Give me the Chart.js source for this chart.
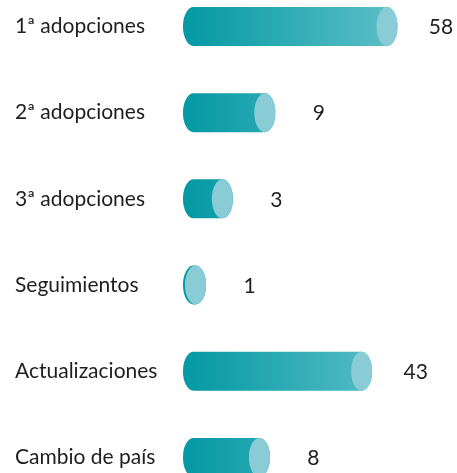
<!DOCTYPE html>
<html>
<head>
<meta charset="utf-8">
<script src="https://cdn.jsdelivr.net/npm/chart.js@4"></script>
<style>
  body { margin: 0; background: #fff; }
  #wrap { width: 457px; height: 473px; position: relative; }
</style>
</head>
<body>
<div id="wrap"><canvas id="adopBar"></canvas></div>
<script>
// datos
const categorias = ['1ª adopciones', '2ª adopciones', '3ª adopciones', 'Seguimientos', 'Actualizaciones', 'Cambio de país'];
const valores = [58, 9, 3, 1, 43, 8];

// colores
const colorOscuro = '#0399a4';
const colorClaro = '#5cbfc8';
const colorTapa = '#89ccd5';
const colorTexto = '#1e1e1e';
const fuente = 'Lato, "Noto Sans", sans-serif';

// escala de potencia (las barras del original no son lineales)
const EXP = 0.35;
class PowerScale extends Chart.LinearScale {
    getPixelForValue(value) {
        const lo = Math.pow(this.min, EXP);
        const hi = Math.pow(this.max, EXP);
        return this.getPixelForDecimal((Math.pow(value, EXP) - lo) / (hi - lo));
    }
    getValueForPixel(pixel) {
        const lo = Math.pow(this.min, EXP);
        const hi = Math.pow(this.max, EXP);
        return Math.pow(lo + this.getDecimalForPixel(pixel) * (hi - lo), 1 / EXP);
    }
}
PowerScale.id = 'power';
PowerScale.defaults = Chart.LinearScale.defaults;
Chart.register(PowerScale);

// cilindros + valores
const cilindros = {
    id: 'cilindros',
    afterDatasetsDraw(chart) {
        const { ctx, chartArea } = chart;
        const meta = chart.getDatasetMeta(0);
        const grad = ctx.createLinearGradient(chartArea.left - 10, 0, chartArea.right + 10, 0);
        grad.addColorStop(0, colorOscuro);
        grad.addColorStop(1, colorClaro);

        ctx.save();
        meta.data.forEach((bar, i) => {
            const { x, y, base, height } = bar.getProps(['x', 'y', 'base', 'height'], true);
            const ry = height / 2;
            const rx = ry * 0.54;

            // cuerpo
            ctx.beginPath();
            ctx.ellipse(base, y, rx, ry, 0, Math.PI / 2, Math.PI * 1.5);
            ctx.lineTo(x, y - ry);
            ctx.ellipse(x, y, rx, ry, 0, -Math.PI / 2, Math.PI / 2);
            ctx.closePath();
            ctx.fillStyle = grad;
            ctx.fill();

            // tapa
            ctx.beginPath();
            ctx.ellipse(x, y, rx, ry, 0, 0, Math.PI * 2);
            ctx.fillStyle = colorTapa;
            ctx.fill();

            // valor
            ctx.fillStyle = colorTexto;
            ctx.font = '21px ' + fuente;
            ctx.textAlign = 'center';
            ctx.textBaseline = 'middle';
            ctx.fillText(valores[i], x + 54, y + 1);
        });
        ctx.restore();
    }
};

const config = {
    type: 'bar',
    data: {
        labels: categorias,
        datasets: [{
            data: valores,
            base: 1,
            minBarLength: 2,
            barThickness: 39,
            backgroundColor: 'rgba(0,0,0,0)'
        }]
    },
    options: {
        indexAxis: 'y',
        responsive: true,
        maintainAspectRatio: false,
        animation: false,
        layout: {
            padding: { left: 15, right: 70, top: 26.5, bottom: 13 }
        },
        scales: {
            x: {
                type: 'power',
                min: 1,
                max: 58,
                display: false
            },
            y: {
                offset: false,
                grid: { display: false },
                border: { display: false },
                ticks: {
                    crossAlign: 'far',
                    color: colorTexto,
                    font: { size: 21, family: fuente }
                },
                afterFit(scale) {
                    scale.width = 178.5;
                }
            }
        },
        plugins: {
            legend: { display: false },
            tooltip: { enabled: false }
        }
    },
    plugins: [cilindros]
};

new Chart(document.getElementById('adopBar').getContext('2d'), config);
</script>
</body>
</html>
